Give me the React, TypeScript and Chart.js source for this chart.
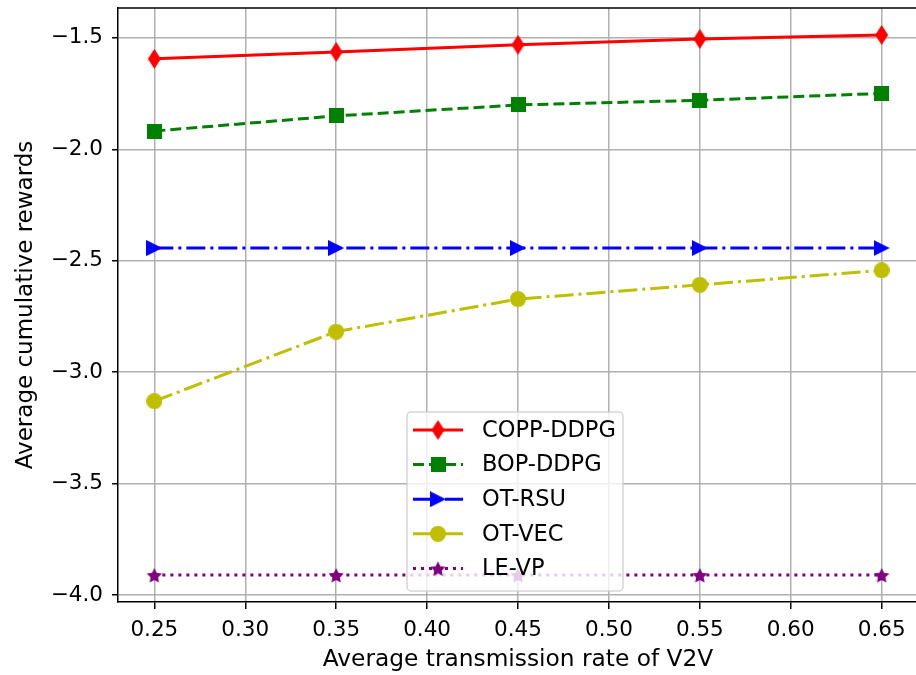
import React, { useEffect, useRef } from 'react';
import { Chart, registerables } from 'chart.js';

Chart.register(...registerables);

const rates = [0.25, 0.35, 0.45, 0.55, 0.65];
const seriesNames = ['COPP-DDPG', 'BOP-DDPG', 'OT-RSU', 'OT-VEC', 'LE-VP'];
const coppDdpg = [-1.594, -1.563, -1.531, -1.505, -1.487];
const bopDdpg = [-1.918, -1.850, -1.801, -1.780, -1.749];
const otRsu = [-2.443, -2.443, -2.443, -2.443, -2.443];
const otVec = [-3.130, -2.818, -2.672, -2.608, -2.543];
const leVp = [-3.910, -3.910, -3.910, -3.910, -3.910];
const xTicks = [0.25, 0.3, 0.35, 0.4, 0.45, 0.5, 0.55, 0.6, 0.65];
const yTicks = [-4.0, -3.5, -3.0, -2.5, -2.0, -1.5];
const xTitle = 'Average transmission rate of V2V';
const yTitle = 'Average cumulative rewards';

type Kind = 'thinDiamond' | 'square' | 'triRight' | 'circle' | 'star';

function makeMarker(kind: Kind, color: string, w: number, h: number): HTMLCanvasElement {
  const c = document.createElement('canvas');
  c.width = w;
  c.height = h;
  const g = c.getContext('2d')!;
  g.fillStyle = color;
  g.beginPath();
  if (kind === 'thinDiamond') {
    g.moveTo(w / 2, 0);
    g.lineTo(w, h / 2);
    g.lineTo(w / 2, h);
    g.lineTo(0, h / 2);
  } else if (kind === 'square') {
    g.rect(0, 0, w, h);
  } else if (kind === 'triRight') {
    g.moveTo(0, 0);
    g.lineTo(w, h / 2);
    g.lineTo(0, h);
  } else if (kind === 'circle') {
    g.arc(w / 2, h / 2, w / 2, 0, Math.PI * 2);
  } else {
    const R = w / 2;
    const r = R * 0.5;
    for (let k = 0; k < 10; k++) {
      const ang = -Math.PI / 2 + (k * Math.PI) / 5;
      const rr = k % 2 === 0 ? R : r;
      const px = w / 2 + rr * Math.cos(ang);
      const py = h / 2 + 1 + rr * Math.sin(ang);
      if (k === 0) g.moveTo(px, py);
      else g.lineTo(px, py);
    }
  }
  g.closePath();
  g.fill();
  return c;
}

const fmtMinus = (v: number, d: number) => (v < 0 ? '\u2212' : '') + Math.abs(v).toFixed(d);

const framePlugin = {
  id: 'frame',
  afterDatasetsDraw(chart: any) {
    const { ctx, chartArea: a } = chart;
    ctx.save();
    ctx.strokeStyle = '#000';
    ctx.lineWidth = 1.5;
    ctx.beginPath();
    ctx.moveTo(a.left, a.top);
    ctx.lineTo(a.right, a.top);
    ctx.lineTo(a.right, a.bottom);
    ctx.stroke();
    ctx.restore();
  },
};

const legendPlugin = {
  id: 'mplLegend',
  afterDraw(chart: any) {
    const { ctx, chartArea: a } = chart;
    const bx = a.left + 289;
    const by = a.top + 404;
    const bw = 216;
    const bh = 179;
    ctx.save();
    ctx.beginPath();
    const r = 4;
    ctx.moveTo(bx + r, by);
    ctx.arcTo(bx + bw, by, bx + bw, by + bh, r);
    ctx.arcTo(bx + bw, by + bh, bx, by + bh, r);
    ctx.arcTo(bx, by + bh, bx, by, r);
    ctx.arcTo(bx, by, bx + bw, by, r);
    ctx.closePath();
    ctx.fillStyle = 'rgba(255,255,255,0.8)';
    ctx.fill();
    ctx.strokeStyle = 'rgba(204,204,204,0.8)';
    ctx.lineWidth = 1.5;
    ctx.stroke();
    chart.data.datasets.forEach((ds: any, i: number) => {
      const cy = by + 18 + i * 34.6;
      const x0 = bx + 6;
      const x1 = bx + 56;
      ctx.strokeStyle = ds.borderColor;
      ctx.lineWidth = ds.borderWidth;
      ctx.setLineDash(ds.borderDash || []);
      ctx.beginPath();
      ctx.moveTo(x0, cy);
      ctx.lineTo(x1, cy);
      ctx.stroke();
      ctx.setLineDash([]);
      const img = ds.pointStyle as HTMLCanvasElement;
      ctx.drawImage(img, (x0 + x1) / 2 - img.width / 2, cy - img.height / 2);
      ctx.fillStyle = '#000';
      ctx.font = '22.5px "DejaVu Sans"';
      ctx.textBaseline = 'middle';
      ctx.textAlign = 'left';
      ctx.fillText(ds.label, bx + 75, cy + 1);
    });
    ctx.restore();
  },
};

export default function App() {
  const ref = useRef<HTMLCanvasElement>(null);
  useEffect(() => {
    if (!ref.current) return;
    const mk = {
      copp: makeMarker('thinDiamond', '#ff0000', 13, 20),
      bop: makeMarker('square', '#008000', 15, 15),
      rsu: makeMarker('triRight', '#0000ff', 16, 16),
      vec: makeMarker('circle', '#bfbf00', 16, 16),
      le: makeMarker('star', '#800080', 16, 16),
    };
    const pts = (vals: number[]) => rates.map((x, i) => ({ x, y: vals[i] }));
    const chart = new Chart(ref.current, {
      type: 'line',
      data: {
        datasets: [
          { label: seriesNames[0], data: pts(coppDdpg), borderColor: '#ff0000', borderWidth: 3, pointStyle: mk.copp as any, borderDash: [] },
          { label: seriesNames[1], data: pts(bopDdpg), borderColor: '#008000', borderWidth: 3, pointStyle: mk.bop as any, borderDash: [11, 5] },
          { label: seriesNames[2], data: pts(otRsu), borderColor: '#0000ff', borderWidth: 3, pointStyle: mk.rsu as any, borderDash: [19, 5, 3, 5] },
          { label: seriesNames[3], data: pts(otVec), borderColor: '#bfbf00', borderWidth: 3, pointStyle: mk.vec as any, borderDash: [19, 5, 3, 5] },
          { label: seriesNames[4], data: pts(leVp), borderColor: '#800080', borderWidth: 3, pointStyle: mk.le as any, borderDash: [3, 5] },
        ].map((d, i) => ({ ...d, backgroundColor: d.borderColor, tension: 0, fill: false, order: 5 - i })) as any,
      },
      options: {
        animation: false,
        responsive: true,
        maintainAspectRatio: false,
        events: [],
        layout: { autoPadding: false, padding: { top: 8, right: 0, left: 0, bottom: 0 } },
        plugins: { legend: { display: false }, tooltip: { enabled: false } },
        scales: {
          x: {
            type: 'linear',
            min: 0.23,
            max: 0.67,
            afterBuildTicks: (s: any) => { s.ticks = xTicks.map((v) => ({ value: v })); },
            afterFit: (s: any) => { s.height = 73; s.paddingLeft = 0; s.paddingRight = 0; },
            ticks: {
              callback: (v: any) => Number(v).toFixed(2),
              color: '#000',
              font: { family: 'DejaVu Sans', size: 21.5 },
              padding: 9,
              maxRotation: 0,
              autoSkip: false,
            },
            grid: { color: '#b0b0b0', lineWidth: 1.5, drawTicks: true, tickLength: 7, tickColor: '#000', tickWidth: 1.5 },
            border: { display: true, color: '#000', width: 1.5 },
            title: { display: true, text: xTitle, color: '#000', font: { family: 'DejaVu Sans', size: 23.3 }, padding: { top: 0, bottom: 1 } },
          },
          y: {
            type: 'linear',
            min: -4.031,
            max: -1.366,
            afterBuildTicks: (s: any) => { s.ticks = yTicks.map((v) => ({ value: v })); },
            afterFit: (s: any) => { s.width = 118; s.paddingTop = 0; s.paddingBottom = 0; },
            ticks: {
              callback: (v: any) => fmtMinus(Number(v), 1),
              color: '#000',
              font: { family: 'DejaVu Sans', size: 21.5 },
              padding: 9,
              autoSkip: false,
            },
            grid: { color: '#b0b0b0', lineWidth: 1.5, drawTicks: true, tickLength: 6, tickColor: '#000', tickWidth: 1.5 },
            border: { display: true, color: '#000', width: 1.5 },
            title: { display: true, text: yTitle, color: '#000', font: { family: 'DejaVu Sans', size: 23 }, padding: { top: 12, bottom: 0 } },
          },
        },
      },
      plugins: [framePlugin, legendPlugin],
    });
    return () => chart.destroy();
  }, []);
  return (
    <div style={{ position: 'fixed', left: 0, top: 0, width: 918, height: 675, background: '#fff' }}>
      <canvas ref={ref} />
    </div>
  );
}
